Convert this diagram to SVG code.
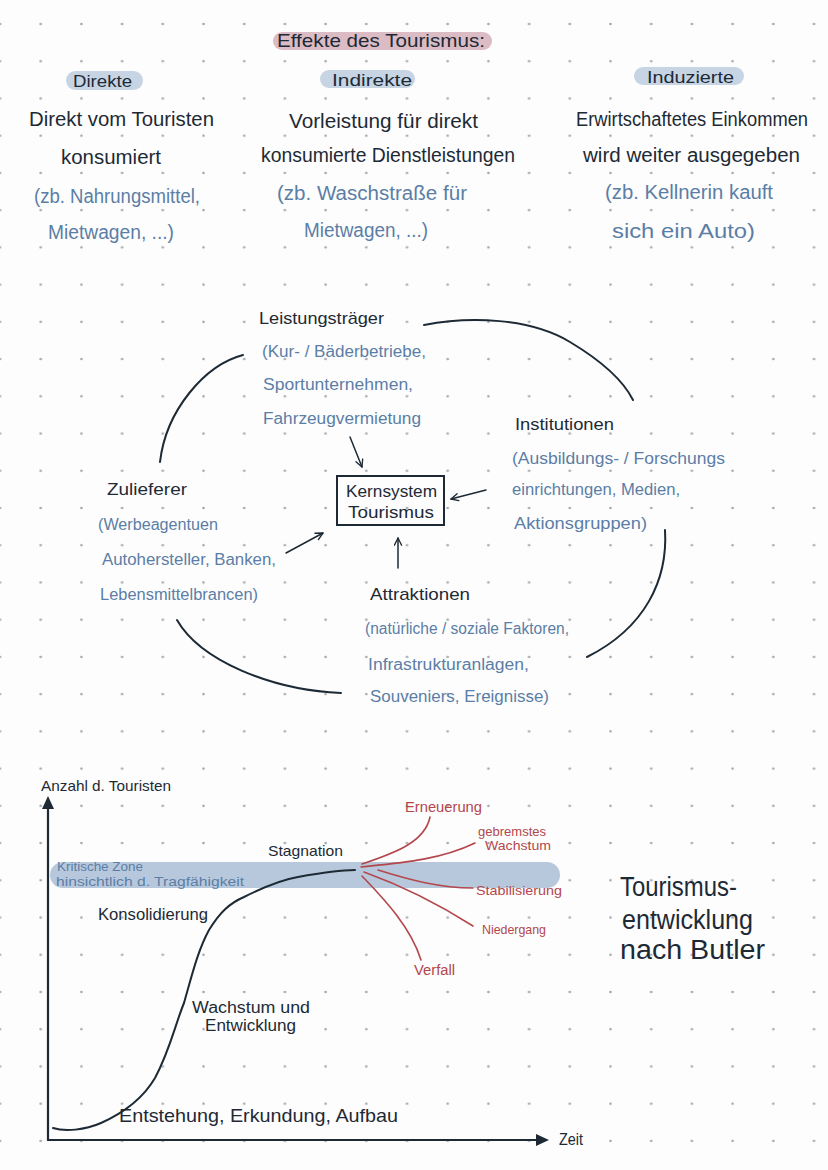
<svg xmlns="http://www.w3.org/2000/svg" width="828" height="1170" viewBox="0 0 828 1170">
  <defs>
    <pattern id="dots" patternUnits="userSpaceOnUse" x="-20.35" y="5.38" width="40.7" height="37.23">
      <circle cx="20.35" cy="18.62" r="1.3" fill="#a3a6aa"/>
    </pattern>
    <marker id="av" viewBox="0 0 10 10" refX="9" refY="5" markerWidth="9" markerHeight="9" orient="auto" markerUnits="userSpaceOnUse">
      <path d="M1,1 L9,5 L1,9" fill="none" stroke="#1d2a35" stroke-width="1.5" stroke-linecap="round" stroke-linejoin="round"/>
    </marker>
    <style>
      text { font-family: "Liberation Sans", Arial, sans-serif; }
      .k { fill: #1d2a35; }
      .b { fill: #5b7ea6; }
      .r { fill: #b3474c; }
      .ln { fill: none; stroke: #1d2a35; stroke-width: 2; stroke-linecap: round; }
      .ar { fill: none; stroke: #1d2a35; stroke-width: 1.5; stroke-linecap: round; marker-end: url(#av); }
      .rl { fill: none; stroke: #b3474c; stroke-width: 1.6; stroke-linecap: round; }
      .pill { fill: #c6d4e4; }
      .s20 { font-size: 20px; }
      .s19 { font-size: 19px; }
      .s17 { font-size: 17px; }
      .s16 { font-size: 16px; }
      .s15 { font-size: 15px; }
      .s14 { font-size: 14px; }
      .s13 { font-size: 13px; }
      .s12 { font-size: 12px; }
      .s27 { font-size: 27px; }
    </style>
  </defs>

  <rect width="828" height="1170" fill="#fdfdfd"/>
  <rect width="828" height="1170" fill="url(#dots)"/>

  <!-- Title -->
  <g id="title">
    <rect x="273" y="32" width="219" height="18" rx="9" fill="#dcbcc4"/>
    <text class="k s19" x="277" y="47" textLength="208" lengthAdjust="spacingAndGlyphs">Effekte des Tourismus:</text>
  </g>

  <g id="col-direkte">
    <rect class="pill" x="66" y="71" width="77" height="19" rx="9.5"/>
    <text class="k s17" x="73" y="87" textLength="59" lengthAdjust="spacingAndGlyphs">Direkte</text>
    <text class="k s20" x="29" y="126" textLength="185" lengthAdjust="spacingAndGlyphs">Direkt vom Touristen</text>
    <text class="k s20" x="61" y="164" textLength="100" lengthAdjust="spacingAndGlyphs">konsumiert</text>
    <text class="b s20" x="34" y="203" textLength="166" lengthAdjust="spacingAndGlyphs">(zb. Nahrungsmittel,</text>
    <text class="b s20" x="48" y="239" textLength="126" lengthAdjust="spacingAndGlyphs">Mietwagen, ...)</text>
  </g>

  <g id="col-indirekte">
    <rect class="pill" x="320" y="70" width="95" height="18" rx="9"/>
    <text class="k s17" x="332" y="86" textLength="80" lengthAdjust="spacingAndGlyphs">Indirekte</text>
    <text class="k s20" x="289" y="128" textLength="189" lengthAdjust="spacingAndGlyphs">Vorleistung für direkt</text>
    <text class="k s20" x="261" y="162" textLength="254" lengthAdjust="spacingAndGlyphs">konsumierte Dienstleistungen</text>
    <text class="b s20" x="277" y="200" textLength="190" lengthAdjust="spacingAndGlyphs">(zb. Waschstraße für</text>
    <text class="b s20" x="304" y="237" textLength="124" lengthAdjust="spacingAndGlyphs">Mietwagen, ...)</text>
  </g>

  <g id="col-induzierte">
    <rect class="pill" x="634" y="67" width="110" height="18" rx="9"/>
    <text class="k s17" x="647" y="83" textLength="87" lengthAdjust="spacingAndGlyphs">Induzierte</text>
    <text class="k s20" x="576" y="126" textLength="232" lengthAdjust="spacingAndGlyphs">Erwirtschaftetes Einkommen</text>
    <text class="k s20" x="583" y="162" textLength="217" lengthAdjust="spacingAndGlyphs">wird weiter ausgegeben</text>
    <text class="b s20" x="605" y="199" textLength="168" lengthAdjust="spacingAndGlyphs">(zb. Kellnerin kauft</text>
    <text class="b s20" x="612" y="238" textLength="143" lengthAdjust="spacingAndGlyphs">sich ein Auto)</text>
  </g>

  <!-- Middle system diagram -->
  <g id="node-leistungstraeger">
    <text class="k s17" x="259" y="324" textLength="125" lengthAdjust="spacingAndGlyphs">Leistungsträger</text>
    <text class="b s16" x="262" y="357" textLength="164" lengthAdjust="spacingAndGlyphs">(Kur- / Bäderbetriebe,</text>
    <text class="b s16" x="263" y="390" textLength="150" lengthAdjust="spacingAndGlyphs">Sportunternehmen,</text>
    <text class="b s16" x="263" y="424" textLength="158" lengthAdjust="spacingAndGlyphs">Fahrzeugvermietung</text>
  </g>

  <g id="node-kernsystem">
    <rect x="337" y="476" width="107" height="49" fill="none" stroke="#1d2a35" stroke-width="2"/>
    <text class="k s17" x="346" y="497" textLength="91" lengthAdjust="spacingAndGlyphs">Kernsystem</text>
    <text class="k s17" x="348" y="518" textLength="86" lengthAdjust="spacingAndGlyphs">Tourismus</text>
  </g>

  <g id="node-institutionen">
    <text class="k s17" x="515" y="430" textLength="99" lengthAdjust="spacingAndGlyphs">Institutionen</text>
    <text class="b s16" x="512" y="464" textLength="213" lengthAdjust="spacingAndGlyphs">(Ausbildungs- / Forschungs</text>
    <text class="b s16" x="512" y="495" textLength="168" lengthAdjust="spacingAndGlyphs">einrichtungen, Medien,</text>
    <text class="b s16" x="514" y="529" textLength="133" lengthAdjust="spacingAndGlyphs">Aktionsgruppen)</text>
  </g>

  <g id="node-zulieferer">
    <text class="k s17" x="107" y="495" textLength="80" lengthAdjust="spacingAndGlyphs">Zulieferer</text>
    <text class="b s16" x="98" y="530" textLength="120" lengthAdjust="spacingAndGlyphs">(Werbeagentuen</text>
    <text class="b s16" x="102" y="565" textLength="174" lengthAdjust="spacingAndGlyphs">Autohersteller, Banken,</text>
    <text class="b s16" x="100" y="600" textLength="158" lengthAdjust="spacingAndGlyphs">Lebensmittelbrancen)</text>
  </g>

  <g id="node-attraktionen">
    <text class="k s17" x="370" y="600" textLength="100" lengthAdjust="spacingAndGlyphs">Attraktionen</text>
    <text class="b s16" x="365" y="634" textLength="204" lengthAdjust="spacingAndGlyphs">(natürliche / soziale Faktoren,</text>
    <text class="b s16" x="368" y="670" textLength="161" lengthAdjust="spacingAndGlyphs">Infrastrukturanlagen,</text>
    <text class="b s16" x="370" y="702" textLength="179" lengthAdjust="spacingAndGlyphs">Souveniers, Ereignisse)</text>
  </g>

  <g id="connectors">
    <path class="ar" d="M350,437 L362,467"/>
    <path class="ar" d="M486,490 L451,499"/>
    <path class="ar" d="M286,553 L323,533"/>
    <path class="ar" d="M398,568 L398,538"/>
    <path class="ln" d="M424,325 C470,316 530,318 570,342 C600,360 622,378 633,400"/>
    <path class="ln" d="M243,355 C205,365 166,410 160,462"/>
    <path class="ln" d="M665,530 C668,580 645,628 587,657"/>
    <path class="ln" d="M177,620 C200,660 270,690 341,693"/>
  </g>

  <!-- Butler chart -->
  <g id="chart">
    <rect x="50" y="862" width="510" height="26" rx="13" fill="#b8c8dc"/>
    <text class="b s12" x="57" y="871" textLength="86" lengthAdjust="spacingAndGlyphs">Kritische Zone</text>
    <text class="b s12" x="56" y="886" textLength="188" lengthAdjust="spacingAndGlyphs">hinsichtlich d. Tragfähigkeit</text>

    <line x1="48" y1="806" x2="48" y2="1140" stroke="#1d2a35" stroke-width="2.2"/>
    <polygon points="48,796 42,809 54,809" fill="#1d2a35"/>
    <line x1="47" y1="1140" x2="540" y2="1140" stroke="#1d2a35" stroke-width="2.2"/>
    <polygon points="549,1140 536,1134 536,1146" fill="#1d2a35"/>

    <text class="k s15" x="41" y="791" textLength="130" lengthAdjust="spacingAndGlyphs">Anzahl d. Touristen</text>
    <text class="k s16" x="559" y="1145" textLength="24" lengthAdjust="spacingAndGlyphs">Zeit</text>

    <path class="ln" d="M53,1128 C65,1132 85,1130 101,1123 C130,1110 145,1095 155,1078 C170,1050 175,1025 184,1003 C192,975 198,950 209,930 C220,912 230,903 244,897 C262,888 280,880 298,877 C320,873 340,870 355,870"/>

    <text class="k s15" x="268" y="856" textLength="75" lengthAdjust="spacingAndGlyphs">Stagnation</text>
    <text class="k s16" x="98" y="920" textLength="110" lengthAdjust="spacingAndGlyphs">Konsolidierung</text>
    <text class="k s16" x="192" y="1013" textLength="118" lengthAdjust="spacingAndGlyphs">Wachstum und</text>
    <text class="k s16" x="205" y="1031" textLength="91" lengthAdjust="spacingAndGlyphs">Entwicklung</text>
    <text class="k s19" x="119" y="1122" textLength="279" lengthAdjust="spacingAndGlyphs">Entstehung, Erkundung, Aufbau</text>

    <path class="rl" d="M362,864 C395,853 425,842 430,817"/>
    <path class="rl" d="M361,867 C400,863 440,860 475,843"/>
    <path class="rl" d="M378,870 C410,880 440,888 473,888"/>
    <path class="rl" d="M364,872 C400,885 440,905 473,926"/>
    <path class="rl" d="M362,876 C380,895 410,925 421,960"/>

    <text class="r s14" x="405" y="812" textLength="77" lengthAdjust="spacingAndGlyphs">Erneuerung</text>
    <text class="r s13" x="478" y="836" textLength="68" lengthAdjust="spacingAndGlyphs">gebremstes</text>
    <text class="r s13" x="485" y="850" textLength="66" lengthAdjust="spacingAndGlyphs">Wachstum</text>
    <text class="r s13" x="476" y="895" textLength="86" lengthAdjust="spacingAndGlyphs">Stabilisierung</text>
    <text class="r s13" x="482" y="934" textLength="64" lengthAdjust="spacingAndGlyphs">Niedergang</text>
    <text class="r s14" x="414" y="975" textLength="41" lengthAdjust="spacingAndGlyphs">Verfall</text>

    <text class="k s27" x="620" y="896" textLength="117" lengthAdjust="spacingAndGlyphs">Tourismus-</text>
    <text class="k s27" x="622" y="929" textLength="131" lengthAdjust="spacingAndGlyphs">entwicklung</text>
    <text class="k s27" x="620" y="959" textLength="145" lengthAdjust="spacingAndGlyphs">nach Butler</text>
  </g>
</svg>
